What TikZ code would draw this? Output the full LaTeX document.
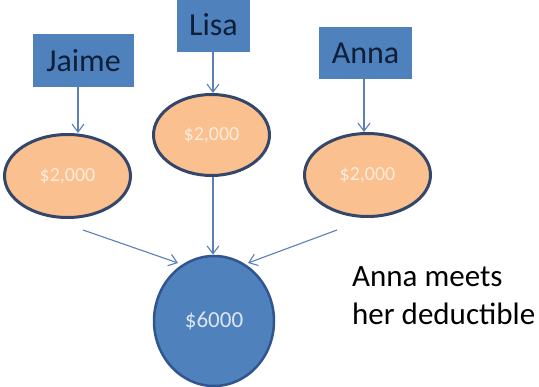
\documentclass[tikz,border=0pt]{standalone}
\usepackage{fontspec}
\setmainfont{Carlito}
\usetikzlibrary{arrows.meta,shapes.geometric}
\definecolor{boxblue}{HTML}{4F81BD}
\definecolor{boxtext}{HTML}{0F1F3A}
\definecolor{peach}{HTML}{FAC090}
\definecolor{ovalline}{HTML}{34466A}
\definecolor{circline}{HTML}{30558F}
\definecolor{peachtext}{HTML}{FDEBDC}
\definecolor{circtext}{HTML}{DCE6F2}
\definecolor{arrowc}{HTML}{5B7FB6}
\tikzset{
  namebox/.style={fill=boxblue, text=boxtext, inner sep=0pt, font=\fontsize{32}{36}\selectfont},
  oval/.style={ellipse, fill=peach, draw=ovalline, line width=3pt, inner sep=0pt, text=peachtext, font=\fontsize{20}{24}\selectfont},
  total/.style={ellipse, fill=boxblue, draw=circline, line width=2.5pt, inner sep=0pt, text=circtext, font=\fontsize{23}{27}\selectfont},
  conn/.style={draw=arrowc, line width=1.1pt, -{Straight Barb[length=8pt,width=12pt,line width=1.1pt]}}
}
\begin{document}
\begin{tikzpicture}[x=1pt,y=-1pt]
\useasboundingbox (0,0) rectangle (539,387);
\node[namebox, minimum width=101pt, minimum height=53pt] (jaime) at (83.5,60.5) {Jaime};
\node[namebox, minimum width=73pt, minimum height=54pt] (lisa) at (213.5,25) {Lisa};
\node[namebox, minimum width=93pt, minimum height=52pt] (anna) at (365.5,53) {Anna};
\node[oval, minimum width=126pt, minimum height=83pt] (oj) at (67.5,176) {\$2,000};
\node[oval, minimum width=116pt, minimum height=81pt] (ol) at (211.5,135) {\$2,000};
\node[oval, minimum width=126pt, minimum height=83pt] (oa) at (367.5,175) {\$2,000};
\node[total, minimum width=120pt, minimum height=130pt] (tot) at (214,321) {\$6000};
\coordinate (lstart) at (83,230);
\coordinate (lend) at (178,263);
\coordinate (rstart) at (337,230);
\coordinate (rend) at (248,263);
\draw[conn] (jaime.south -| 78,0) -- (oj.north -| 78,0);
\draw[conn] (lisa.south -| 213,0) -- (ol.north -| 213,0);
\draw[conn] (anna.south -| 364,0) -- (oa.north -| 364,0);
\draw[conn] (ol.south -| 213,0) -- (tot.north -| 213,0);
\draw[conn] (lstart) -- (lend);
\draw[conn] (rstart) -- (rend);
\node[anchor=base west, inner sep=0pt, align=left, font=\fontsize{31}{38}\selectfont] (note) at (352,325) {Anna meets\\her deductible};
\end{tikzpicture}
\end{document}
